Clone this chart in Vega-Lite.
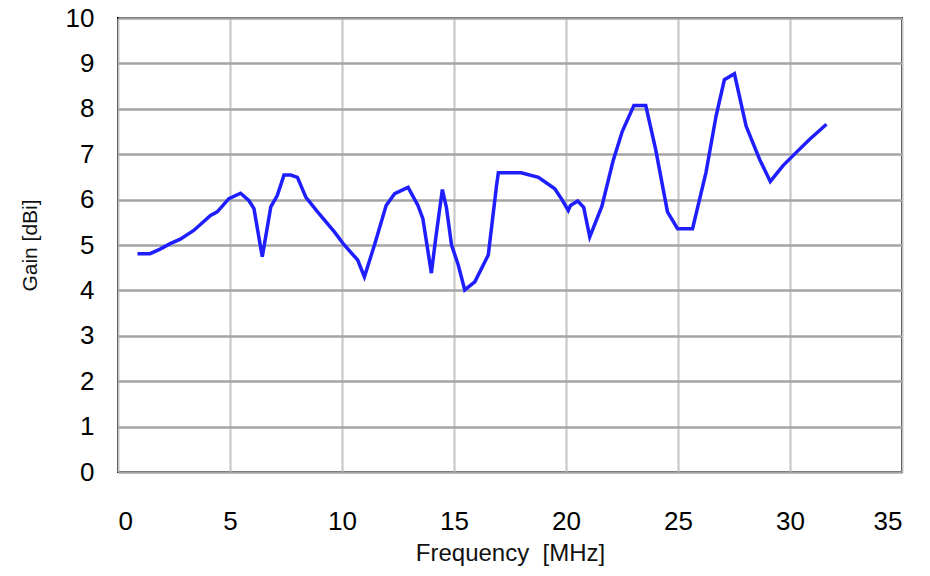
{
  "$schema": "https://vega.github.io/schema/vega-lite/v6.json",
  "autosize": "none",
  "padding": {"left": 118, "top": 18, "right": 28, "bottom": 104},
  "width": 784,
  "height": 454,
  "background": "white",
  "config": {
    "view": {"stroke": "black", "strokeWidth": 2},
    "font": "Liberation Sans"
  },
  "data": {
    "values": [
      {"f": 0.87, "g": 4.81}, {"f": 1.43, "g": 4.81}, {"f": 1.88, "g": 4.91}, {"f": 2.33, "g": 5.03},
      {"f": 2.78, "g": 5.13}, {"f": 3.38, "g": 5.32}, {"f": 4.13, "g": 5.65}, {"f": 4.43, "g": 5.73},
      {"f": 4.95, "g": 6.02}, {"f": 5.47, "g": 6.14}, {"f": 5.84, "g": 5.98}, {"f": 6.07, "g": 5.8},
      {"f": 6.44, "g": 4.74}, {"f": 6.82, "g": 5.84}, {"f": 7.11, "g": 6.09}, {"f": 7.41, "g": 6.54},
      {"f": 7.71, "g": 6.54}, {"f": 8.01, "g": 6.49}, {"f": 8.39, "g": 6.05}, {"f": 8.91, "g": 5.73},
      {"f": 9.66, "g": 5.29}, {"f": 10.1, "g": 5.0}, {"f": 10.7, "g": 4.67}, {"f": 11.0, "g": 4.3},
      {"f": 11.45, "g": 5.0}, {"f": 11.97, "g": 5.87}, {"f": 12.35, "g": 6.13}, {"f": 12.95, "g": 6.27},
      {"f": 13.39, "g": 5.87}, {"f": 13.61, "g": 5.58}, {"f": 13.99, "g": 4.38}, {"f": 14.2, "g": 5.21},
      {"f": 14.48, "g": 6.22}, {"f": 14.66, "g": 5.83}, {"f": 14.89, "g": 5.0}, {"f": 15.19, "g": 4.56},
      {"f": 15.48, "g": 4.01}, {"f": 15.93, "g": 4.19}, {"f": 16.53, "g": 4.78}, {"f": 16.9, "g": 6.31},
      {"f": 16.98, "g": 6.59}, {"f": 18.0, "g": 6.59}, {"f": 18.77, "g": 6.49}, {"f": 19.5, "g": 6.24},
      {"f": 19.82, "g": 6.0}, {"f": 20.1, "g": 5.76}, {"f": 20.2, "g": 5.87}, {"f": 20.52, "g": 5.97},
      {"f": 20.79, "g": 5.83}, {"f": 21.06, "g": 5.18}, {"f": 21.6, "g": 5.85}, {"f": 22.1, "g": 6.85},
      {"f": 22.51, "g": 7.5}, {"f": 23.03, "g": 8.07}, {"f": 23.56, "g": 8.07}, {"f": 24.0, "g": 7.11},
      {"f": 24.53, "g": 5.73}, {"f": 24.98, "g": 5.36}, {"f": 25.65, "g": 5.36}, {"f": 26.25, "g": 6.6},
      {"f": 26.7, "g": 7.84}, {"f": 27.07, "g": 8.64}, {"f": 27.52, "g": 8.77}, {"f": 28.04, "g": 7.62},
      {"f": 28.64, "g": 6.89}, {"f": 29.12, "g": 6.4}, {"f": 29.69, "g": 6.75}, {"f": 30.28, "g": 7.04},
      {"f": 30.88, "g": 7.33}, {"f": 31.63, "g": 7.66}
    ]
  },
  "mark": {"type": "line", "color": "#1e1eff", "strokeWidth": 3.5, "interpolate": "linear"},
  "encoding": {
    "x": {
      "field": "f", "type": "quantitative",
      "scale": {"domain": [0, 35], "nice": false},
      "axis": {
        "title": "Frequency\u00a0 [MHz]", "values": [0, 5, 10, 15, 20, 25, 30, 35],
        "grid": true, "gridColor": "#c4c4c4", "gridWidth": 2,
        "domain": false, "ticks": false,
        "labelFontSize": 26, "labelColor": "black", "labelPadding": 36,
        "titleFontSize": 24, "titleFontWeight": "normal", "titleColor": "#111", "titlePadding": 7
      }
    },
    "y": {
      "field": "g", "type": "quantitative",
      "scale": {"domain": [0, 10], "nice": false},
      "axis": {
        "title": "Gain [dBi]", "values": [0, 1, 2, 3, 4, 5, 6, 7, 8, 9, 10],
        "grid": true, "gridColor": "#a4a4a4", "gridWidth": 2.5,
        "domain": false, "ticks": false,
        "labelFontSize": 26, "labelColor": "black", "labelPadding": 24,
        "titleFontSize": 21, "titleFontWeight": "normal", "titleColor": "#111", "titlePadding": 25
      }
    }
  }
}
